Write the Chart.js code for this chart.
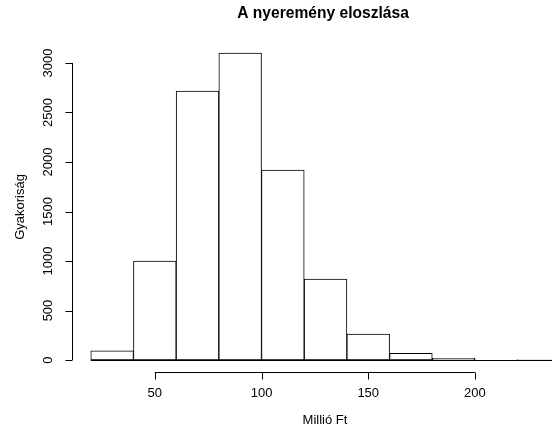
<!DOCTYPE html>
<html>
<head>
<meta charset="utf-8">
<script src="https://cdn.jsdelivr.net/npm/chart.js@4"></script>
<style>
  html, body { margin: 0; padding: 0; background: #fff; }
  #wrap { width: 552px; height: 429px; }
</style>
</head>
<body>
<div id="wrap"><canvas id="hist" width="552" height="429"></canvas></div>
<script>
// histogram bins (Millió Ft) and counts
const binStart = [20, 40, 60, 80, 100, 120, 140, 160, 180, 200, 220];
const binWidth = 20;
const counts = [92, 1000, 2715, 3100, 1918, 818, 262, 68, 17, 2, 1];
const xTicks = [50, 100, 150, 200];
const yTicks = [0, 500, 1000, 1500, 2000, 2500, 3000];

const title = 'A nyeremény eloszlása';
const xLabel = 'Millió Ft';
const yLabel = 'Gyakoriság';

const FONT = '"Liberation Sans", Arial, sans-serif';

// R style detached axes, drawn from the chart scales
const rAxes = {
    id: 'rAxes',
    afterDatasetsDraw(chart) {
        const ctx = chart.ctx;
        const xs = chart.scales.x, ys = chart.scales.y;
        const area = chart.chartArea;
        ctx.save();
        ctx.strokeStyle = '#000';
        ctx.fillStyle = '#000';
        ctx.lineWidth = 1;

        // baseline under the bins
        const y0 = Math.round(ys.getPixelForValue(0)) + 0.5;
        ctx.beginPath();
        ctx.moveTo(xs.getPixelForValue(binStart[0]), y0);
        ctx.lineTo(xs.getPixelForValue(binStart[binStart.length - 1] + binWidth), y0);
        ctx.stroke();

        // x axis
        const ax = Math.round(area.bottom) + 0.5;
        ctx.beginPath();
        ctx.moveTo(xs.getPixelForValue(xTicks[0]), ax);
        ctx.lineTo(xs.getPixelForValue(xTicks[xTicks.length - 1]), ax);
        xTicks.forEach(v => {
            const p = Math.round(xs.getPixelForValue(v)) + 0.5;
            ctx.moveTo(p, ax);
            ctx.lineTo(p, ax + 7);
        });
        ctx.stroke();
        ctx.font = '13px ' + FONT;
        ctx.textAlign = 'center';
        ctx.textBaseline = 'middle';
        xTicks.forEach(v => ctx.fillText(String(v), xs.getPixelForValue(v), 393));

        // y axis
        const ay = Math.round(area.left) + 0.5;
        ctx.beginPath();
        ctx.moveTo(ay, ys.getPixelForValue(yTicks[0]));
        ctx.lineTo(ay, ys.getPixelForValue(yTicks[yTicks.length - 1]));
        yTicks.forEach(v => {
            const p = Math.round(ys.getPixelForValue(v)) + 0.5;
            ctx.moveTo(ay, p);
            ctx.lineTo(ay - 7, p);
        });
        ctx.stroke();
        yTicks.forEach(v => {
            ctx.save();
            ctx.translate(48, ys.getPixelForValue(v));
            ctx.rotate(-Math.PI / 2);
            ctx.fillText(String(v), 0, 0);
            ctx.restore();
        });

        // labels and title, centred on the plot region
        ctx.fillText(xLabel, 325, 420);
        ctx.save();
        ctx.translate(20, 207);
        ctx.rotate(-Math.PI / 2);
        ctx.fillText(yLabel, 0, 0);
        ctx.restore();
        ctx.font = 'bold 15.6px ' + FONT;
        ctx.fillText(title, 323, 14);
        ctx.restore();
    }
};

new Chart(document.getElementById('hist'), {
    type: 'bar',
    data: {
        datasets: [{
            data: binStart.map((s, i) => ({ x: s + binWidth / 2, y: counts[i] })),
            backgroundColor: '#fff',
            borderColor: '#000',
            borderWidth: 1,
            borderSkipped: false,
            barPercentage: 1,
            categoryPercentage: 1
        }]
    },
    options: {
        responsive: false,
        animation: false,
        layout: { padding: { left: 72, top: 40.7, right: 0, bottom: 56.7 } },
        plugins: { legend: { display: false }, tooltip: { enabled: false } },
        scales: {
            x: { type: 'linear', display: false, min: 11.2, max: 236.1, offset: false },
            y: { display: false, min: -124, max: 3225 }
        }
    },
    plugins: [rAxes]
});
</script>
</body>
</html>
